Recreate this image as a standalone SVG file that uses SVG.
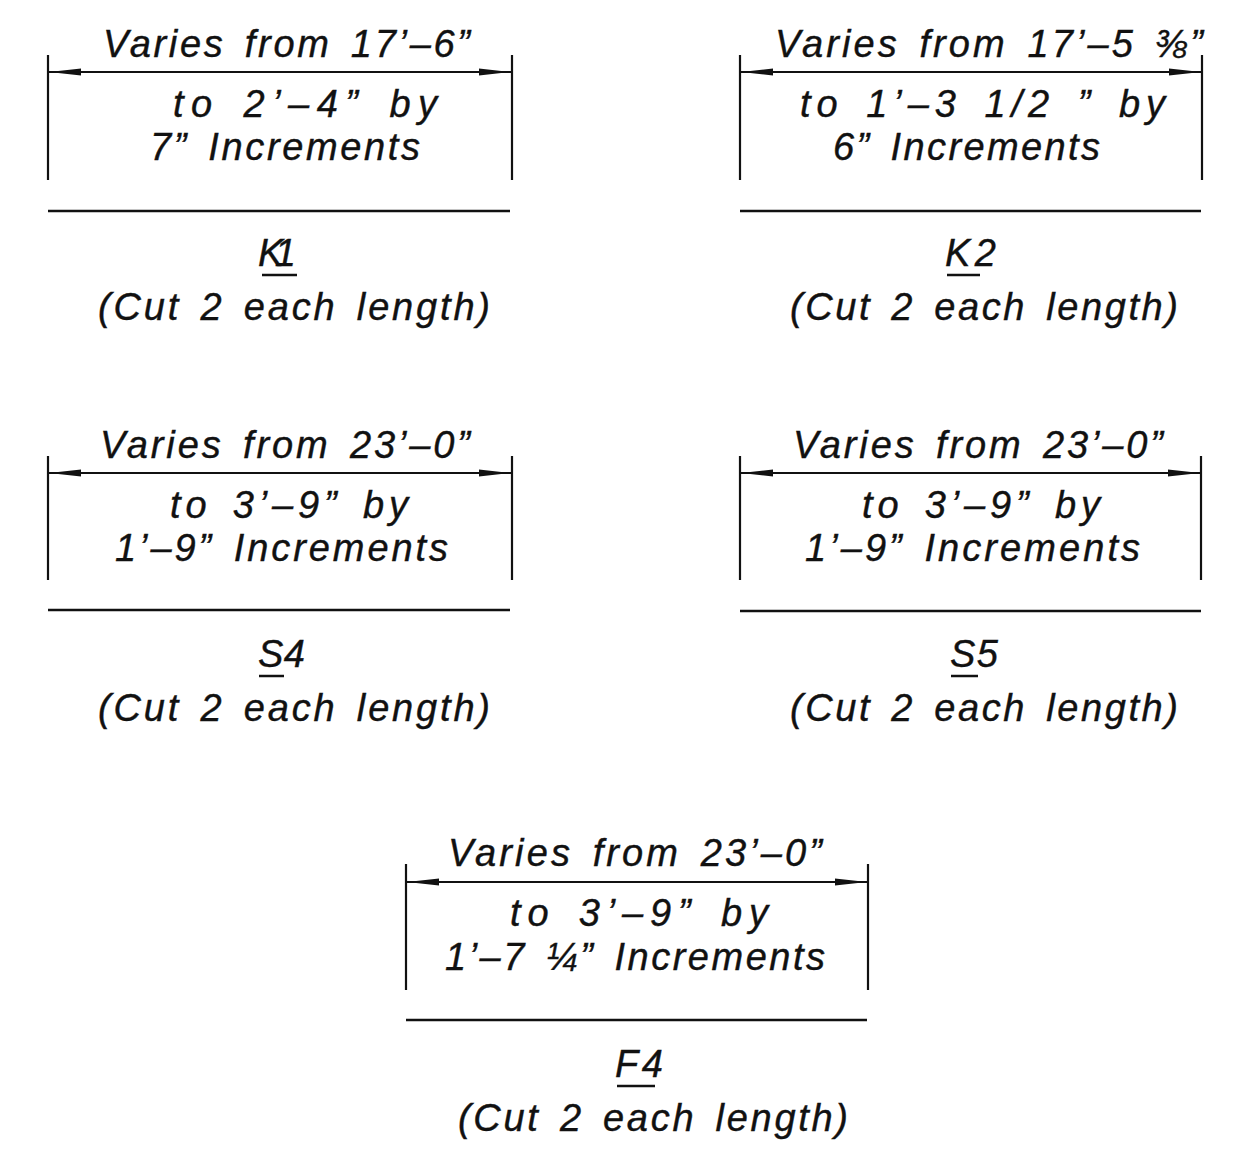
<svg xmlns="http://www.w3.org/2000/svg" width="1236" height="1175" viewBox="0 0 1236 1175">
<style>
.t{font-family:"Liberation Sans","DejaVu Sans",sans-serif;font-style:italic;font-size:38px;fill:#111;stroke:#111;stroke-width:0.4;word-spacing:6px}
.ln{stroke:#111;stroke-width:2.5;fill:none}
.ext{stroke:#111;stroke-width:2.2;fill:none}
.dim{stroke:#111;stroke-width:1.8;fill:none;marker-start:url(#aS);marker-end:url(#aE)}
</style>
<defs>
<marker id="aE" markerUnits="userSpaceOnUse" markerWidth="34" markerHeight="10" refX="32" refY="5" orient="auto"><path d="M0,1.5 L32,5 L0,8.5 Z" fill="#111"/></marker>
<marker id="aS" markerUnits="userSpaceOnUse" markerWidth="34" markerHeight="10" refX="0" refY="5" orient="auto"><path d="M32,1.5 L0,5 L32,8.5 Z" fill="#111"/></marker>
</defs>
<rect width="1236" height="1175" fill="#fff"/>
<g id="connectors">
<line class="dim" x1="49" y1="72" x2="511" y2="72"/>
<line class="dim" x1="741" y1="72" x2="1201" y2="72"/>
<line class="dim" x1="49" y1="473" x2="511" y2="473"/>
<line class="dim" x1="741" y1="473" x2="1200" y2="473"/>
<line class="dim" x1="407" y1="882" x2="867" y2="882"/>
</g>
<g id="K1">
<line class="ext" x1="48" y1="55" x2="48" y2="180"/>
<line class="ext" x1="512" y1="55" x2="512" y2="180"/>
<line class="ln" x1="48" y1="211" x2="510" y2="211"/>
<text class="t" x="103" y="57" textLength="367" lengthAdjust="spacing">Varies from 17’–6”</text>
<text class="t" x="173" y="117" textLength="264" lengthAdjust="spacing">to 2’–4” by</text>
<text class="t" x="150" y="160" textLength="270" lengthAdjust="spacing">7” Increments</text>
<text class="t" x="258" y="266" textLength="38" lengthAdjust="spacing">K1</text>
<line class="ln" x1="262" y1="275" x2="297" y2="275"/>
<text class="t" x="98" y="320" textLength="392" lengthAdjust="spacing">(Cut 2 each length)</text>
</g>
<g id="K2">
<line class="ext" x1="740" y1="55" x2="740" y2="180"/>
<line class="ext" x1="1202" y1="55" x2="1202" y2="180"/>
<line class="ln" x1="740" y1="211" x2="1201" y2="211"/>
<text class="t" x="775" y="57" textLength="428" lengthAdjust="spacing">Varies from 17’–5 ⅜”</text>
<text class="t" x="800" y="117" textLength="365" lengthAdjust="spacing">to  1’–3 1/2 ” by</text>
<text class="t" x="833" y="160" textLength="267" lengthAdjust="spacing">6” Increments</text>
<text class="t" x="945" y="266" textLength="51" lengthAdjust="spacing">K2</text>
<line class="ln" x1="947" y1="275" x2="980" y2="275"/>
<text class="t" x="790" y="320" textLength="388" lengthAdjust="spacing">(Cut 2 each length)</text>
</g>
<g id="S4">
<line class="ext" x1="48" y1="456" x2="48" y2="580"/>
<line class="ext" x1="512" y1="456" x2="512" y2="580"/>
<line class="ln" x1="48" y1="610" x2="510" y2="610"/>
<text class="t" x="100" y="458" textLength="370" lengthAdjust="spacing">Varies from 23’–0”</text>
<text class="t" x="170" y="518" textLength="238" lengthAdjust="spacing">to 3’–9” by</text>
<text class="t" x="115" y="561" textLength="333" lengthAdjust="spacing">1’–9” Increments</text>
<text class="t" x="258" y="667" textLength="47" lengthAdjust="spacing">S4</text>
<line class="ln" x1="259" y1="676" x2="284" y2="676"/>
<text class="t" x="98" y="721" textLength="392" lengthAdjust="spacing">(Cut 2 each length)</text>
</g>
<g id="S5">
<line class="ext" x1="740" y1="456" x2="740" y2="580"/>
<line class="ext" x1="1201" y1="456" x2="1201" y2="580"/>
<line class="ln" x1="740" y1="611" x2="1201" y2="611"/>
<text class="t" x="793" y="458" textLength="370" lengthAdjust="spacing">Varies from 23’–0”</text>
<text class="t" x="862" y="518" textLength="238" lengthAdjust="spacing">to 3’–9” by</text>
<text class="t" x="805" y="561" textLength="335" lengthAdjust="spacing">1’–9” Increments</text>
<text class="t" x="950" y="667" textLength="48" lengthAdjust="spacing">S5</text>
<line class="ln" x1="951" y1="676" x2="978" y2="676"/>
<text class="t" x="790" y="721" textLength="388" lengthAdjust="spacing">(Cut 2 each length)</text>
</g>
<g id="F4">
<line class="ext" x1="406" y1="864" x2="406" y2="990"/>
<line class="ext" x1="868" y1="864" x2="868" y2="990"/>
<line class="ln" x1="406" y1="1020" x2="867" y2="1020"/>
<text class="t" x="448" y="866" textLength="374" lengthAdjust="spacing">Varies from 23’–0”</text>
<text class="t" x="510" y="926" textLength="258" lengthAdjust="spacing">to  3’–9” by</text>
<text class="t" x="445" y="970" textLength="380" lengthAdjust="spacing">1’–7 ¼” Increments</text>
<text class="t" x="615" y="1077" textLength="48" lengthAdjust="spacing">F4</text>
<line class="ln" x1="617" y1="1086" x2="655" y2="1086"/>
<text class="t" x="458" y="1131" textLength="390" lengthAdjust="spacing">(Cut 2 each length)</text>
</g>
</svg>
